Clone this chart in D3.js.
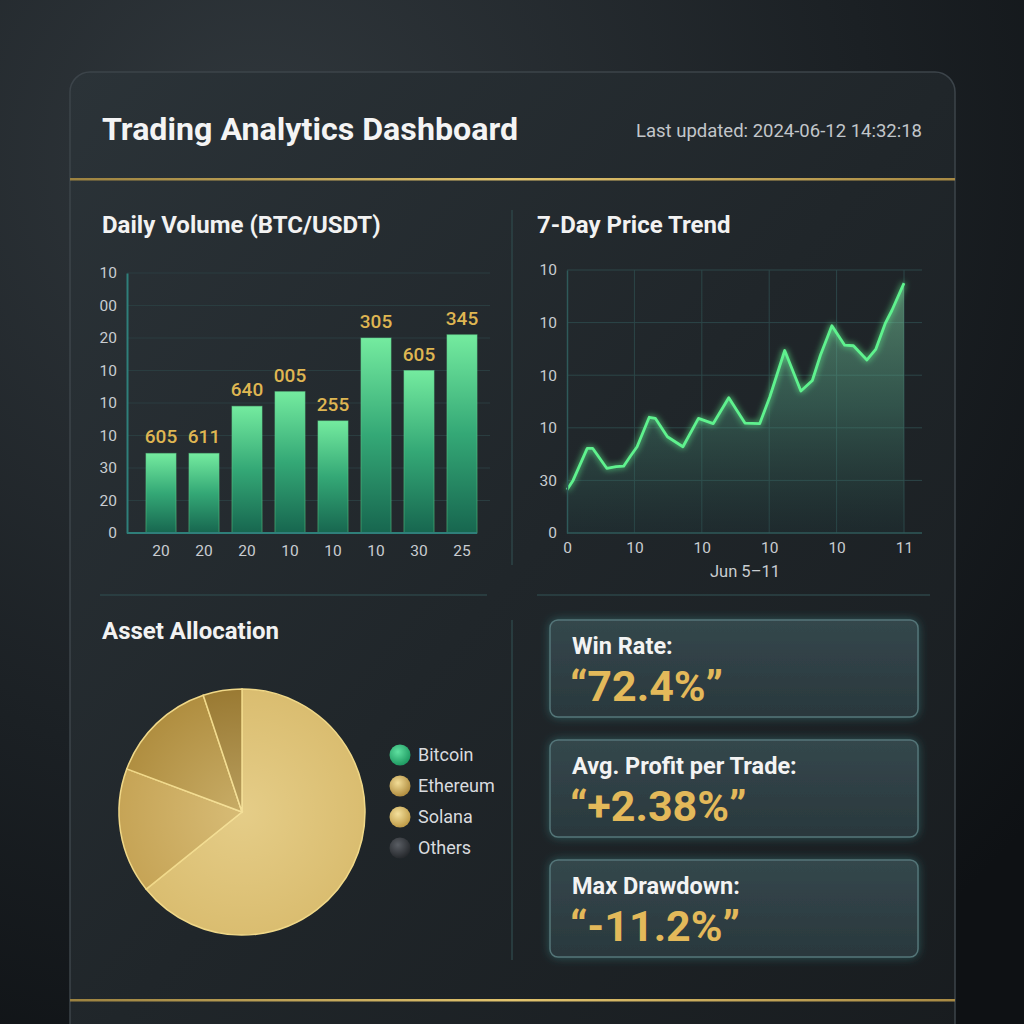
<!DOCTYPE html>
<html>
<head>
<meta charset="utf-8">
<script src="https://cdn.jsdelivr.net/npm/d3@7"></script>
<style>
  html, body { margin: 0; padding: 0; background: #15191c; }
  svg { display: block; font-family: Roboto, "Noto Sans", sans-serif; }
</style>
</head>
<body>
<div id="chart"></div>
<script>
// bar chart data (garbled labels kept)
const barDays = ["20", "20", "20", "10", "10", "10", "30", "25"]
const barValues = [2.45, 2.45, 3.9, 4.35, 3.45, 6.0, 5.0, 6.1]
const barLabels = ["605", "611", "640", "005", "255", "305", "605", "345"]
const barTickLabels = ["0", "20", "30", "10", "10", "10", "20", "00", "10"]

// price trend
const priceX = [0, 0.09, 0.3, 0.38, 0.59, 0.73, 0.84, 0.94, 1.04, 1.22, 1.31, 1.49, 1.72, 1.95, 2.17, 2.4,
  2.64, 2.86, 3.01, 3.23, 3.47, 3.64, 3.76, 3.93, 4.12, 4.25, 4.45, 4.58, 4.72, 4.82, 5.0]
const priceY = [0.82, 1.0, 1.61, 1.61, 1.23, 1.26, 1.27, 1.46, 1.64, 2.2, 2.18, 1.83, 1.64, 2.18, 2.08, 2.57,
  2.09, 2.08, 2.59, 3.47, 2.7, 2.9, 3.38, 3.94, 3.57, 3.56, 3.29, 3.49, 3.98, 4.23, 4.75]
const priceXTicks = ["0", "10", "10", "10", "10", "11"]
const priceYTicks = ["0", "30", "10", "10", "10", "10"]

// allocation
const assets = ["Bitcoin", "Ethereum", "Solana", "Others"]
const shares = [64.2, 16.5, 14.2, 5.1]

// kpis
const kpiNames = ["Win Rate:", "Avg. Profit per Trade:", "Max Drawdown:"]
const kpiValues = ["\u201C72.4%\u201D", "\u201C+2.38%\u201D", "\u201C-11.2%\u201D"]

let width = 1024, height = 1024
let svg = d3.select("#chart").append("svg")
    .attr("width", width)
    .attr("height", height)
let defs = svg.append("defs")

//背景
let bg = defs.append("radialGradient").attr("id", "bg")
    .attr("cx", "0.25").attr("cy", "0.15").attr("r", "1.0")
bg.append("stop").attr("offset", "0").attr("stop-color", "#30373c")
bg.append("stop").attr("offset", "0.6").attr("stop-color", "#1b2024")
bg.append("stop").attr("offset", "1").attr("stop-color", "#0e1114")
svg.append("rect").attr("width", width).attr("height", height).attr("fill", "url(#bg)")

let cardGrad = defs.append("linearGradient").attr("id", "card")
    .attr("x1", "0").attr("y1", "0").attr("x2", "1").attr("y2", "1")
cardGrad.append("stop").attr("offset", "0").attr("stop-color", "#2b3338")
cardGrad.append("stop").attr("offset", "0.5").attr("stop-color", "#20262a")
cardGrad.append("stop").attr("offset", "1").attr("stop-color", "#181c1f")
svg.append("rect")
    .attr("x", 70).attr("y", 72).attr("width", 885).attr("height", 1000)
    .attr("rx", 20)
    .attr("fill", "url(#card)")
    .attr("stroke", "#3c444a").attr("stroke-width", 1.5)

// header
svg.append("text")
    .attr("x", 102).attr("y", 140)
    .attr("font-size", 31).attr("font-weight", 700).attr("fill", "#f4f4f4")
    .attr("textLength", 416).attr("lengthAdjust", "spacingAndGlyphs")
    .text("Trading Analytics Dashboard")
svg.append("text")
    .attr("x", 922).attr("y", 137).attr("text-anchor", "end")
    .attr("font-size", 18.5).attr("fill", "#c2c6ca")
    .text("Last updated: 2024-06-12 14:32:18")
let gold = defs.append("linearGradient").attr("id", "goldLine")
gold.append("stop").attr("offset", "0").attr("stop-color", "#9c8240")
gold.append("stop").attr("offset", "0.5").attr("stop-color", "#e2c46e")
gold.append("stop").attr("offset", "1").attr("stop-color", "#a88a44")
svg.append("rect").attr("x", 70).attr("y", 178).attr("width", 885).attr("height", 2.5).attr("fill", "url(#goldLine)")
svg.append("rect").attr("x", 70).attr("y", 999).attr("width", 885).attr("height", 2.5).attr("fill", "url(#goldLine)")

// dividers
let divider = "#2c4447"
svg.append("path").attr("stroke", divider).attr("stroke-width", 1.5)
    .attr("d", "M512,210 V565 M512,620 V960 M100,595 H487 M537,595 H930")

// section titles
const sections = [["Daily Volume (BTC/USDT)", 102, 233], ["7-Day Price Trend", 537, 233], ["Asset Allocation", 102, 639]]
svg.selectAll(".sec").data(sections).enter().append("text")
    .attr("x", d => d[1]).attr("y", d => d[2])
    .attr("font-size", 24).attr("font-weight", 700).attr("fill", "#f2f2f2")
    .text(d => d[0])

let glow = defs.append("filter").attr("id", "glow")
    .attr("x", "-20%").attr("y", "-20%").attr("width", "140%").attr("height", "140%")
glow.append("feGaussianBlur").attr("stdDeviation", 3).attr("result", "b")
let gm = glow.append("feMerge")
gm.append("feMergeNode").attr("in", "b")
gm.append("feMergeNode").attr("in", "SourceGraphic")

// ---------- bar chart ----------
let xBar = d3.scaleBand().domain(d3.range(barValues.length))
    .range([139.5, 483.5]).paddingInner(0.3).paddingOuter(0.15)
let yBar = d3.scaleLinear().domain([0, 8]).range([533, 273])
let barG = svg.append("g")

barG.selectAll(".grid").data(d3.range(1, 9)).enter().append("line")
    .attr("x1", 127).attr("x2", 490)
    .attr("y1", d => yBar(d)).attr("y2", d => yBar(d))
    .attr("stroke", "#2a3d40").attr("stroke-width", 1)

let barGrad = defs.append("linearGradient").attr("id", "barGrad")
    .attr("x1", "0").attr("y1", "0").attr("x2", "0").attr("y2", "1")
barGrad.append("stop").attr("offset", "0").attr("stop-color", "#74eb9f")
barGrad.append("stop").attr("offset", "0.5").attr("stop-color", "#34a876")
barGrad.append("stop").attr("offset", "1").attr("stop-color", "#17664f")

barG.selectAll(".bar").data(barValues).enter().append("rect")
    .attr("x", (d, i) => xBar(i))
    .attr("y", d => yBar(d))
    .attr("width", xBar.bandwidth())
    .attr("height", d => yBar(0) - yBar(d))
    .attr("fill", "url(#barGrad)")
    .attr("stroke", "#5fd08c").attr("stroke-opacity", 0.5)

barG.selectAll(".blabel").data(barValues).enter().append("text")
    .attr("x", (d, i) => xBar(i) + xBar.bandwidth() / 2)
    .attr("y", d => yBar(d) - 10)
    .attr("text-anchor", "middle")
    .attr("font-size", 19).attr("font-weight", 500).attr("fill", "#dfb652")
    .text((d, i) => barLabels[i])

let yAxisBar = barG.append("g").attr("transform", "translate(127,0)")
    .call(d3.axisLeft(yBar).tickValues(d3.range(9)).tickFormat(i => barTickLabels[i]).tickSize(0).tickPadding(10))
yAxisBar.select(".domain").attr("stroke", "#2f7f7a").attr("stroke-width", 2)
let xAxisBar = barG.append("g").attr("transform", "translate(0,533)")
    .call(d3.axisBottom(xBar).tickFormat(i => barDays[i]).tickSize(0).tickPadding(12))
xAxisBar.select(".domain").attr("stroke", "#2f7f7a").attr("stroke-width", 2).attr("d", "M127,0H477")
barG.selectAll(".tick text").attr("font-size", 15.5).attr("fill", "#c9cdd1")
    .attr("font-family", "Roboto, sans-serif")

// ---------- line chart ----------
let xLine = d3.scaleLinear().domain([0, 5]).range([567, 904])
let yLine = d3.scaleLinear().domain([0, 5]).range([533, 270])
let lineG = svg.append("g")
let points = priceX.map((x, i) => [x, priceY[i]])

lineG.selectAll(".hg").data(d3.range(1, 6)).enter().append("line")
    .attr("x1", 567).attr("x2", 922)
    .attr("y1", d => yLine(d)).attr("y2", d => yLine(d))
    .attr("stroke", "#2c4648").attr("stroke-width", 1)
lineG.selectAll(".vg").data(d3.range(1, 6)).enter().append("line")
    .attr("x1", d => xLine(d)).attr("x2", d => xLine(d))
    .attr("y1", 270).attr("y2", 533)
    .attr("stroke", "#2c4648").attr("stroke-width", 1)

let areaGrad = defs.append("linearGradient").attr("id", "areaGrad")
    .attr("gradientUnits", "userSpaceOnUse")
    .attr("x1", 0).attr("y1", 280).attr("x2", 0).attr("y2", 533)
areaGrad.append("stop").attr("offset", "0").attr("stop-color", "#7fcf9f").attr("stop-opacity", 0.55)
areaGrad.append("stop").attr("offset", "0.5").attr("stop-color", "#4f9a80").attr("stop-opacity", 0.4)
areaGrad.append("stop").attr("offset", "1").attr("stop-color", "#1f3e40").attr("stop-opacity", 0.25)

lineG.append("path").datum(points)
    .attr("fill", "url(#areaGrad)")
    .attr("d", d3.area().x(d => xLine(d[0])).y0(yLine(0)).y1(d => yLine(d[1])))
lineG.append("path").datum(points)
    .attr("fill", "none")
    .attr("stroke", "#5ff28e").attr("stroke-width", 2.8)
    .attr("stroke-linejoin", "round")
    .attr("filter", "url(#glow)")
    .attr("d", d3.line().x(d => xLine(d[0])).y(d => yLine(d[1])))

let yAxisLine = lineG.append("g").attr("transform", "translate(567,0)")
    .call(d3.axisLeft(yLine).ticks(5).tickFormat(i => priceYTicks[i]).tickSize(0).tickPadding(10))
yAxisLine.select(".domain").attr("stroke", "#2f5a5a").attr("stroke-width", 1.5)
let xAxisLine = lineG.append("g").attr("transform", "translate(0,533)")
    .call(d3.axisBottom(xLine).ticks(5).tickFormat(i => priceXTicks[i]).tickSize(0).tickPadding(9))
xAxisLine.select(".domain").attr("stroke", "#2f5a5a").attr("stroke-width", 1.5).attr("d", "M567,0H922")
lineG.selectAll(".tick text").attr("font-size", 15.5).attr("fill", "#c9cdd1")
    .attr("font-family", "Roboto, sans-serif")
lineG.append("text")
    .attr("x", 745).attr("y", 577).attr("text-anchor", "middle")
    .attr("font-size", 16.5).attr("fill", "#c9cdd1")
    .text("Jun 5\u201311")

// ---------- pie ----------
const sliceColors = ["#dabd70", "#c6a456", "#b08e40", "#9a7a33"]
const legendColors = [["#5fe0a0", "#1f9a62"], ["#f2dc96", "#b08d40"], ["#f4e09c", "#bf9c48"], ["#5a5e64", "#26292d"]]
let pieG = svg.append("g").attr("transform", "translate(242,812)")
let pie = d3.pie().sort(null).value(d => d)
let arc = d3.arc().innerRadius(0).outerRadius(123)
let sheen = defs.append("radialGradient").attr("id", "sheen")
    .attr("gradientUnits", "userSpaceOnUse")
    .attr("cx", 0).attr("cy", 0).attr("r", 123)
sheen.append("stop").attr("offset", "0").attr("stop-color", "#fff2c0").attr("stop-opacity", 0.3)
sheen.append("stop").attr("offset", "1").attr("stop-color", "#fff2c0").attr("stop-opacity", 0)
pieG.selectAll(".slice").data(pie(shares)).enter().append("path")
    .attr("d", arc)
    .attr("fill", (d, i) => sliceColors[i])
    .attr("stroke", "#f0d888").attr("stroke-width", 1.5)
pieG.append("circle").attr("r", 123).attr("fill", "url(#sheen)")

let legG = svg.append("g")
assets.forEach((name, i) => {
    let g = defs.append("radialGradient").attr("id", `leg${i}`)
        .attr("cx", "0.4").attr("cy", "0.35").attr("r", "0.65")
    g.append("stop").attr("offset", "0").attr("stop-color", legendColors[i][0])
    g.append("stop").attr("offset", "1").attr("stop-color", legendColors[i][1])
})
legG.selectAll("circle").data(assets).enter().append("circle")
    .attr("cx", 400).attr("cy", (d, i) => 755 + i * 31).attr("r", 10.5)
    .attr("fill", (d, i) => `url(#leg${i})`)
legG.selectAll("text").data(assets).enter().append("text")
    .attr("x", 418).attr("y", (d, i) => 761 + i * 31)
    .attr("font-size", 18).attr("fill", "#d9dbdf")
    .text(d => d)

// ---------- kpi cards ----------
let cardGlow = defs.append("filter").attr("id", "cardGlow")
    .attr("x", "-10%").attr("y", "-20%").attr("width", "120%").attr("height", "140%")
cardGlow.append("feGaussianBlur").attr("in", "SourceAlpha").attr("stdDeviation", 5).attr("result", "b")
cardGlow.append("feFlood").attr("flood-color", "#3f9a9a").attr("flood-opacity", 0.45)
cardGlow.append("feComposite").attr("in2", "b").attr("operator", "in").attr("result", "g")
let cm = cardGlow.append("feMerge")
cm.append("feMergeNode").attr("in", "g")
cm.append("feMergeNode").attr("in", "SourceGraphic")

let kpiFill = defs.append("linearGradient").attr("id", "kpiFill")
    .attr("x1", "0").attr("y1", "0").attr("x2", "0").attr("y2", "1")
kpiFill.append("stop").attr("offset", "0").attr("stop-color", "#34474c")
kpiFill.append("stop").attr("offset", "1").attr("stop-color", "#2a383d")

let kpiG = svg.selectAll(".kpi").data(kpiNames).enter().append("g")
    .attr("transform", (d, i) => `translate(550,${620 + i * 120})`)
kpiG.append("rect")
    .attr("width", 368).attr("height", 97).attr("rx", 8)
    .attr("fill", "url(#kpiFill)").attr("stroke", "#557679").attr("stroke-width", 1.5)
    .attr("filter", "url(#cardGlow)")
kpiG.append("text")
    .attr("x", 22).attr("y", 34)
    .attr("font-size", 23.5).attr("font-weight", 700).attr("fill", "#f3f3f3")
    .text(d => d)
kpiG.append("text")
    .attr("x", 20).attr("y", 81)
    .attr("font-size", 43).attr("font-weight", 700).attr("fill", "#e3b95a")
    .text((d, i) => kpiValues[i])
</script>
</body>
</html>
